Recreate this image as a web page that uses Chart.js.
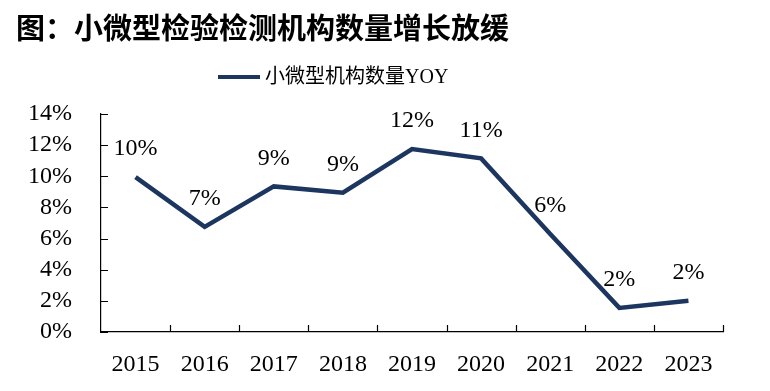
<!DOCTYPE html>
<html lang="zh">
<head>
<meta charset="UTF-8">
<title>小微型检验检测机构数量增长放缓</title>
<script src="https://cdn.jsdelivr.net/npm/chart.js"></script>
<style>
  html, body { margin: 0; padding: 0; background: #fff; }
  #wrap { width: 770px; height: 391px; position: relative; }
</style>
</head>
<body>
<div id="wrap"><canvas id="chart"></canvas></div>
<script>
// Data
const years = ['2015', '2016', '2017', '2018', '2019', '2020', '2021', '2022', '2023'];
const yoy = [9.95, 6.75, 9.35, 8.95, 11.75, 11.15, 6.3, 1.55, 2.0];
const seriesName = '小微型机构数量YOY';
const titleText = '图：小微型检验检测机构数量增长放缓';

const LINE_COLOR = '#1c3660';
const SERIF = '"Liberation Serif", "Times New Roman", "Noto Sans CJK SC", serif';

// Title, legend, inner ticks and point labels
const decor = {
  id: 'decor',
  afterDraw(chart) {
    const ctx = chart.ctx;
    const area = chart.chartArea;
    const ys = chart.scales.y;
    ctx.save();

    // title
    ctx.fillStyle = '#000';
    ctx.font = 'bold 29px "Noto Sans CJK SC", sans-serif';
    ctx.textAlign = 'left';
    ctx.textBaseline = 'middle';
    ctx.fillText(titleText, 16, 28);

    // legend
    const ds = chart.data.datasets[0];
    ctx.strokeStyle = ds.borderColor;
    ctx.lineWidth = 4;
    ctx.beginPath();
    ctx.moveTo(218, 77);
    ctx.lineTo(260, 77);
    ctx.stroke();
    ctx.fillStyle = '#000';
    ctx.font = '20px ' + SERIF;
    ctx.fillText(ds.label, 265, 78);

    // inner ticks
    ctx.strokeStyle = '#000';
    ctx.lineWidth = 1.2;
    ctx.beginPath();
    ys.ticks.forEach(t => {
      const y = Math.round(ys.getPixelForValue(t.value)) + 0.5;
      ctx.moveTo(area.left, y);
      ctx.lineTo(area.left + 7, y);
    });
    const step = (area.right - area.left) / years.length;
    for (let i = 1; i <= years.length; i++) {
      const x = Math.round(area.left + step * i) + 0.5;
      ctx.moveTo(x, area.bottom);
      ctx.lineTo(x, area.bottom - 7);
    }
    ctx.stroke();

    // point labels
    ctx.fillStyle = '#000';
    ctx.font = '24px ' + SERIF;
    ctx.textAlign = 'center';
    ctx.textBaseline = 'middle';
    chart.getDatasetMeta(0).data.forEach((pt, i) => {
      ctx.fillText(Math.round(yoy[i]) + '%', pt.x, pt.y - 28);
    });
    ctx.restore();
  }
};

new Chart(document.getElementById('chart'), {
  type: 'line',
  data: {
    labels: years,
    datasets: [{
      label: seriesName,
      data: yoy,
      borderColor: LINE_COLOR,
      backgroundColor: LINE_COLOR,
      borderWidth: 4.5,
      pointRadius: 0,
      tension: 0,
      borderJoinStyle: 'miter'
    }]
  },
  options: {
    responsive: true,
    maintainAspectRatio: false,
    animation: false,
    layout: { padding: { top: 114, right: 47, left: 0, bottom: 0 } },
    plugins: {
      legend: { display: false },
      title: { display: false },
      tooltip: { enabled: false }
    },
    scales: {
      x: {
        offset: true,
        grid: { display: false },
        border: { display: true, color: '#000', width: 1.2 },
        ticks: {
          color: '#000',
          font: { family: SERIF, size: 24 },
          padding: 10,
          maxRotation: 0,
          autoSkip: false
        },
        afterFit(scale) { scale.height = 59; }
      },
      y: {
        min: 0,
        max: 14,
        grid: { display: false },
        border: { display: true, color: '#000', width: 1.2 },
        ticks: {
          stepSize: 2,
          autoSkip: false,
          color: '#000',
          font: { family: SERIF, size: 24 },
          padding: 21,
          callback: v => v + '%'
        },
        afterFit(scale) { scale.width = 101; }
      }
    }
  },
  plugins: [decor]
});
</script>
</body>
</html>
